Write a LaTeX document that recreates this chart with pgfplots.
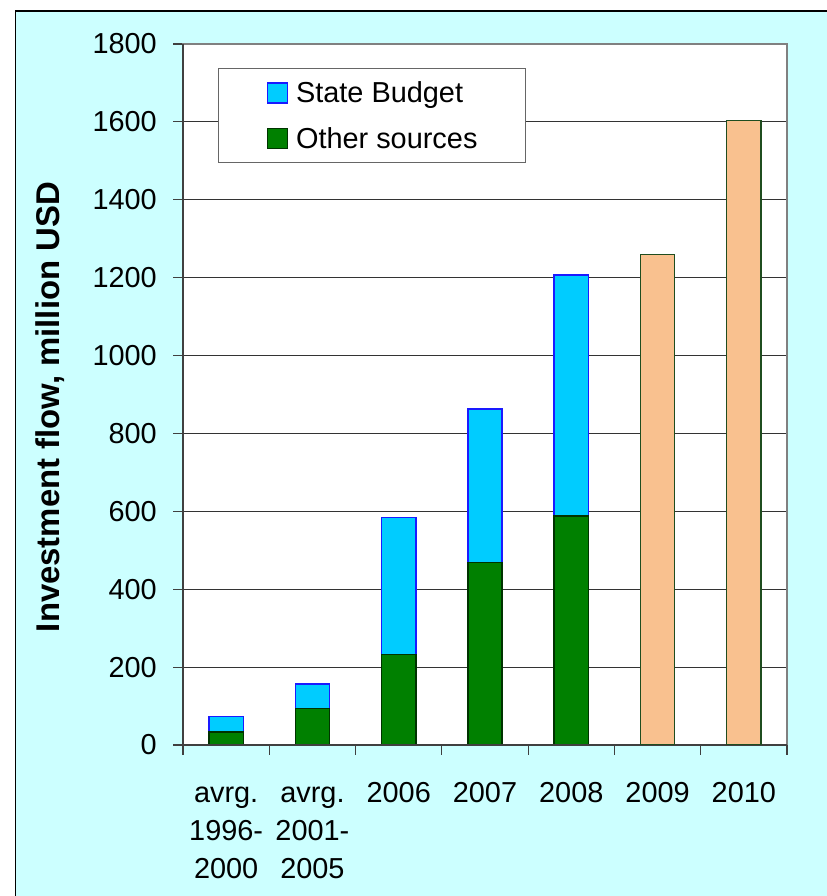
\documentclass[border=0pt]{standalone}
\usepackage{pgfplots}
\pgfplotsset{compat=1.18}
\usepackage{fontspec}
\setmainfont{Liberation Sans}

\definecolor{bgcyan}{HTML}{CCFFFF}
\definecolor{sbfill}{HTML}{00CCFF}
\definecolor{sbdraw}{HTML}{1A1AFF}
\definecolor{osfill}{HTML}{008000}
\definecolor{osdraw}{HTML}{003300}
\definecolor{fcfill}{HTML}{F9C18F}
\definecolor{fcdraw}{HTML}{1F4D1F}

\newcommand{\xl}[1]{\begin{tabular}{@{}c@{}}#1\end{tabular}}

\begin{document}
\fontsize{29}{38.5}\selectfont
\begin{tikzpicture}[x=1bp,y=1bp,font=\fontsize{29}{38.5}\selectfont]
\useasboundingbox (0,0) rectangle (827,896);
\fill[white] (0,0) rectangle (827,896);
\fill[bgcyan] (15.7,0) rectangle (827,885);
\draw[black, line width=1.5bp] (15.7,0) -- (15.7,885) -- (827,885);

\pgfplotsset{
  frame/.style={
    at={(183bp,151bp)}, anchor=south west,
    scale only axis, width=604bp, height=701bp,
    xmin=-0.5, xmax=6.5, ymin=0, ymax=1800,
  },
}

% historical bars: other sources + state budget
\begin{axis}[
  frame,
  ybar stacked, bar width=34.3bp,
  axis background/.style={fill=white},
  axis line style={black!50, line width=1.2bp},
  after end axis/.code={
    \draw[black!75, line width=1.3bp] (rel axis cs:0,1) -- (rel axis cs:0,0) -- (rel axis cs:1,0);
  },
  ymajorgrids, major grid style={black!80, line width=0.9bp},
  ytick={0,200,...,1800},
  xtick={0,...,6},
  xticklabels={\xl{avrg.\\1996-\\2000},\xl{avrg.\\2001-\\2005},\xl{2006},\xl{2007},\xl{2008},\xl{2009},\xl{2010}},
  tick pos=left,
  tick align=outside, major tick length=10bp,
  major x tick style={draw=none},
  y tick style={black!75, line width=1.2bp},
  extra x ticks={-0.5,0.5,...,6.5},
  extra x tick labels={},
  extra x tick style={major x tick style={draw=black!75, line width=1.2bp}},
  yticklabel style={anchor=east, inner sep=0pt, xshift=-16bp},
  xticklabel style={anchor=north, inner sep=0pt, yshift=-20bp},
  /pgf/number format/1000 sep={},
  /pgf/number format/assume math mode=true,
  ylabel={Investment flow, million USD},
  every axis y label/.style={at={(axis description cs:-0.22,0.482)}, rotate=90, anchor=center,
    font=\fontsize{33}{40}\selectfont\bfseries},
  legend style={at={(axis description cs:0.058,0.9658)}, anchor=north west,
    draw=black!60, line width=1bp, fill=white,
    inner xsep=48bp, inner ysep=13.5bp, row sep=24bp, column sep=8bp,
    nodes={inner sep=0pt, text height=21bp, text depth=0bp, anchor=base west},
    font=\fontsize{29}{35}\selectfont},
  legend image code/.code={\draw[#1, line width=1.5bp] (0bp,0bp) rectangle (20bp,20bp);},
  reverse legend,
]
\addplot[fill=osfill, draw=osdraw, line width=1.5bp] coordinates {
  (0,33) (1,94) (2,232) (3,469) (4,588)
};
\addlegendentry{Other sources}
\addplot[fill=sbfill, draw=sbdraw, line width=1.5bp] coordinates {
  (0,40) (1,63) (2,352) (3,394) (4,619)
};
\addlegendentry{State Budget}
\end{axis}

% planned bars
\begin{axis}[
  frame, hide axis,
  ybar, bar width=34.3bp, bar shift=0pt,
]
\addplot[fill=fcfill, draw=fcdraw, line width=1.5bp] coordinates {
  (5,1259) (6,1604)
};
\end{axis}
\end{tikzpicture}
\end{document}
